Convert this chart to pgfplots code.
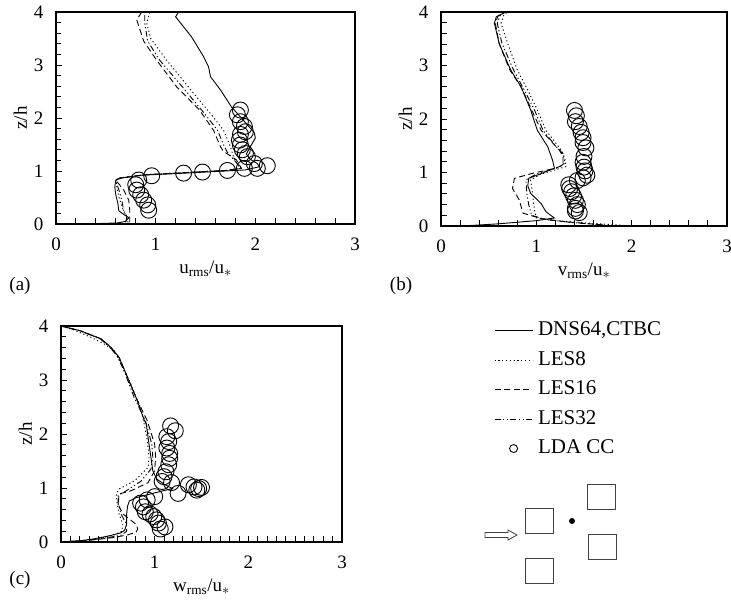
\documentclass[border=0pt]{standalone}
\usepackage{fontspec}
\setmainfont{Liberation Serif}
\usepackage{pgfplots}
\pgfplotsset{compat=1.18}

% line styles of the four computed profiles
\tikzset{
  dns/.style={black, line width=0.9pt, solid},
  les8/.style={black, line width=0.9pt, dash pattern=on 1.2pt off 2.6pt},
  les16/.style={black, line width=0.9pt, dash pattern=on 6pt off 3.5pt},
  les32/.style={black, line width=0.9pt, dash pattern=on 6pt off 2.5pt on 1.2pt off 2.5pt on 1.2pt off 2.5pt},
  lda/.style={black, only marks, mark=o, mark size=8pt, mark options={line width=0.9pt}},
}

\pgfplotsset{
  prof/.style={
    scale only axis, anchor=south west,
    xmin=0, xmax=3, ymin=0, ymax=4,
    xtick={0,1,2,3}, ytick={0,1,2,3,4},
    minor x tick num=4, minor y tick num=4,
    tick pos=left, tick align=inside,
    major tick length=6pt, minor tick length=5.5pt,
    every tick/.style={black, line width=0.9pt},
    axis line style={line width=1.3pt},
    /pgf/number format/assume math mode=true,
    ticklabel style={font=\fontsize{19}{22}\selectfont},
    xticklabel style={yshift=-10pt},
    yticklabel style={xshift=-9pt},
    label style={font=\fontsize{19}{22}\selectfont},
    xlabel style={yshift=-4pt},
    ylabel={z/h},
    ylabel style={yshift=0pt},
  },
}

\begin{document}
\begin{tikzpicture}
\useasboundingbox (0pt,0pt) rectangle (731pt,601pt);

% (a) streamwise fluctuation
\begin{axis}[prof, at={(56pt,377pt)}, width=299pt, height=212pt,
  xlabel={u\textsubscript{rms}/u$_{\ast}$}]
\addplot[dns] coordinates {
(0.25,0.00) (0.45,0.01) (0.62,0.02) (0.70,0.05) (0.73,0.12) (0.68,0.18)
(0.63,0.25) (0.62,0.40) (0.60,0.55) (0.59,0.70) (0.60,0.83) (0.66,0.87)
(0.85,0.92) (1.20,0.95) (1.60,0.99) (1.90,1.02) (2.04,1.08) (2.02,1.14)
(1.95,1.22) (1.91,1.32) (1.95,1.46) (2.00,1.62) (1.99,1.72) (1.93,1.85)
(1.85,2.02) (1.76,2.21) (1.65,2.53) (1.55,2.78) (1.53,2.97) (1.48,3.16)
(1.36,3.53) (1.20,3.91) (1.23,4.00)};
\addplot[les8] coordinates {
(0.72,0.03) (0.73,0.11) (0.69,0.20) (0.66,0.33) (0.63,0.52) (0.61,0.70)
(0.60,0.82) (0.64,0.87) (0.90,0.93) (1.30,0.97) (1.70,1.01) (1.86,1.05)
(1.82,1.12) (1.78,1.27) (1.75,1.46) (1.68,1.77) (1.56,2.06) (1.34,2.56)
(1.11,3.09) (0.95,3.50) (0.91,3.79) (0.94,4.00)};
\addplot[les16] coordinates {
(0.74,0.03) (0.74,0.15) (0.74,0.26) (0.73,0.45) (0.68,0.64) (0.62,0.78)
(0.60,0.84) (0.66,0.87) (0.90,0.93) (1.30,0.97) (1.70,1.01) (1.86,1.05)
(1.81,1.21) (1.68,1.37) (1.65,1.46) (1.58,1.77) (1.44,2.15) (1.21,2.59)
(1.01,3.09) (0.88,3.45) (0.81,3.85) (0.86,4.00)};
\addplot[les32] coordinates {
(0.70,0.03) (0.71,0.12) (0.68,0.25) (0.66,0.45) (0.63,0.65) (0.60,0.80)
(0.62,0.86) (0.90,0.93) (1.30,0.97) (1.70,1.01) (1.86,1.05) (1.80,1.18)
(1.72,1.35) (1.68,1.50) (1.62,1.77) (1.50,2.06) (1.28,2.56) (1.04,3.09)
(0.92,3.45) (0.89,3.79) (0.89,4.00)};
\addplot[lda] coordinates {
(1.85,2.15) (1.82,2.06) (1.85,1.93) (1.89,1.84) (1.90,1.74) (1.85,1.69)
(1.84,1.58) (1.85,1.49) (1.87,1.40) (1.90,1.33) (1.92,1.27) (1.99,1.14)
(2.02,1.05) (2.12,1.10) (1.89,1.05) (1.72,1.01) (1.47,0.98) (1.28,0.96)
(0.96,0.91) (0.83,0.83) (0.80,0.74) (0.81,0.64) (0.85,0.55) (0.88,0.45)
(0.92,0.36) (0.93,0.26)};
\end{axis}

% (b) spanwise fluctuation
\begin{axis}[prof, at={(441pt,375pt)}, width=286pt, height=214pt,
  xlabel={v\textsubscript{rms}/u$_{\ast}$}]
\addplot[dns] coordinates {
(0.22,0.00) (0.60,0.04) (1.00,0.10) (1.19,0.15) (1.15,0.20) (1.10,0.27)
(1.05,0.42) (0.94,0.61) (0.91,0.75) (0.92,0.89) (1.05,0.98) (1.19,1.08)
(1.17,1.23) (1.12,1.48) (1.01,1.79) (0.94,2.17) (0.84,2.60) (0.73,2.92)
(0.61,3.41) (0.56,3.79) (0.58,3.91) (0.68,4.00)};
\addplot[les8] coordinates {
(2.00,0.00) (1.60,0.05) (1.20,0.10) (1.00,0.15) (0.98,0.30) (0.96,0.61)
(0.94,0.86) (1.05,0.97) (1.31,1.11) (1.30,1.25) (1.27,1.40) (1.10,1.79)
(1.01,2.17) (0.91,2.54) (0.80,2.92) (0.70,3.41) (0.63,3.79) (0.66,3.95)
(0.70,4.00)};
\addplot[les16] coordinates {
(1.70,0.02) (1.30,0.08) (1.05,0.14) (0.86,0.24) (0.82,0.49) (0.75,0.70)
(0.77,0.89) (0.95,0.98) (1.20,1.08) (1.28,1.14) (1.28,1.30) (1.24,1.42)
(1.05,1.79) (0.95,2.17) (0.84,2.60) (0.72,2.92) (0.61,3.41) (0.57,3.79)
(0.60,3.93) (0.66,4.00)};
\addplot[les32] coordinates {
(1.85,0.00) (1.40,0.06) (1.10,0.12) (0.95,0.20) (0.92,0.40) (0.90,0.61)
(0.89,0.86) (1.00,0.97) (1.24,1.10) (1.30,1.18) (1.28,1.35) (1.20,1.50)
(1.07,1.79) (0.98,2.17) (0.87,2.55) (0.76,2.92) (0.64,3.41) (0.59,3.79)
(0.62,3.93) (0.67,4.00)};
\addplot[lda] coordinates {
(1.40,2.16) (1.42,2.06) (1.41,1.95) (1.45,1.86) (1.47,1.75) (1.49,1.65)
(1.49,1.56) (1.52,1.46) (1.50,1.30) (1.49,1.19) (1.50,1.10) (1.51,1.03)
(1.53,0.95) (1.49,0.90) (1.43,0.85) (1.34,0.77) (1.35,0.70) (1.37,0.64)
(1.39,0.56) (1.41,0.48) (1.43,0.40) (1.41,0.33) (1.41,0.28) (1.45,0.25)};
\end{axis}

% (c) vertical fluctuation, with the legend
\begin{axis}[prof, at={(61pt,59pt)}, width=281pt, height=216pt,
  minor x tick num=9,
  xlabel={w\textsubscript{rms}/u$_{\ast}$},
  legend style={at={(1.53,1.04)}, anchor=north west, draw=none, fill=none,
    font=\fontsize{21}{24}\selectfont, row sep=7.5pt,
    nodes={inner ysep=2pt, inner xsep=5pt, text height=14pt, text depth=4pt}},
  legend cell align=left,
  legend image code/.code={\draw[mark repeat=2, mark phase=2, #1]
    plot coordinates {(0pt,0pt) (19pt,0pt) (38pt,0pt)};}]
\addplot[dns, forget plot] coordinates {
(0.00,0.00) (0.20,0.02) (0.36,0.06) (0.53,0.12) (0.64,0.17) (0.68,0.22)
(0.70,0.33) (0.70,0.50) (0.71,0.66) (0.73,0.76) (0.80,0.82) (1.00,0.91)
(1.19,0.99) (1.10,1.07) (1.02,1.17) (0.98,1.32) (0.96,1.57) (0.94,1.81)
(0.91,2.19) (0.89,2.25) (0.80,2.68) (0.71,3.05) (0.62,3.42) (0.53,3.61)
(0.43,3.76) (0.21,3.91) (0.00,4.00)};
\addplot[les8, forget plot] coordinates {
(0.00,0.00) (0.25,0.03) (0.45,0.08) (0.58,0.14) (0.65,0.20) (0.66,0.33)
(0.62,0.52) (0.60,0.70) (0.59,0.89) (0.62,0.98) (0.79,1.14) (0.93,1.38)
(0.94,1.57) (0.92,1.90) (0.86,2.43) (0.73,2.99) (0.57,3.54) (0.45,3.68)
(0.32,3.79) (0.15,3.92) (0.00,4.00)};
\addplot[les16, forget plot] coordinates {
(0.00,0.00) (0.30,0.03) (0.55,0.08) (0.71,0.13) (0.80,0.18) (0.82,0.24)
(0.80,0.33) (0.66,0.52) (0.61,0.70) (0.62,0.89) (0.75,0.95) (0.93,1.10)
(1.00,1.32) (1.01,1.57) (1.00,1.81) (0.92,2.25) (0.80,2.68) (0.71,3.05)
(0.62,3.42) (0.53,3.61) (0.43,3.76) (0.21,3.91) (0.00,4.00)};
\addplot[les32, forget plot] coordinates {
(0.00,0.00) (0.28,0.03) (0.50,0.08) (0.65,0.13) (0.70,0.20) (0.70,0.33)
(0.64,0.52) (0.61,0.70) (0.61,0.86) (0.68,0.93) (0.85,1.12) (0.96,1.35)
(0.98,1.57) (0.97,1.81) (0.90,2.25) (0.78,2.68) (0.70,3.05) (0.61,3.42)
(0.52,3.61) (0.42,3.76) (0.20,3.91) (0.00,4.00)};
\addplot[lda, forget plot] coordinates {
(1.17,2.15) (1.22,2.06) (1.13,1.95) (1.15,1.86) (1.13,1.74) (1.16,1.64)
(1.16,1.55) (1.15,1.43) (1.12,1.30) (1.10,1.21) (1.08,1.12) (1.18,1.10)
(1.25,0.90) (1.36,1.06) (1.42,1.02) (1.47,0.99) (1.50,1.01) (1.45,0.96)
(1.00,0.84) (0.92,0.78) (0.85,0.72) (0.88,0.65) (0.90,0.56) (0.95,0.52)
(0.99,0.47) (1.02,0.41) (1.04,0.35) (1.11,0.28) (1.06,0.24)};
\addlegendimage{dns}
\addlegendimage{les8}
\addlegendimage{les16}
\addlegendimage{les32}
\addlegendimage{black, only marks, mark=o, mark size=4pt, mark options={line width=0.9pt}}
\legend{DNS64{,}CTBC, LES8, LES16, LES32, LDA CC}
\end{axis}

% panel tags
\node[font=\fontsize{19}{22}\selectfont] at (20pt,315pt) {(a)};
\node[font=\fontsize{19}{22}\selectfont] at (401pt,315pt) {(b)};
\node[font=\fontsize{19}{22}\selectfont] at (20pt,21pt) {(c)};

% array of cubes, measuring point and inflow direction
\begin{scope}[black!75, line width=1pt]
  \draw (525pt,67pt) rectangle (553pt,92pt);
  \draw (587pt,91pt) rectangle (615pt,116pt);
  \draw (588pt,41pt) rectangle (616pt,66pt);
  \draw (525pt,17pt) rectangle (553pt,42pt);
  \fill[black] (572pt,80pt) circle (3pt);
  \draw[line width=0.8pt] (485pt,63.5pt) -- (508pt,63.5pt) -- (508pt,61pt) -- (517pt,66pt)
    -- (508pt,71pt) -- (508pt,68.5pt) -- (485pt,68.5pt) -- cycle;
\end{scope}
\end{tikzpicture}
\end{document}
